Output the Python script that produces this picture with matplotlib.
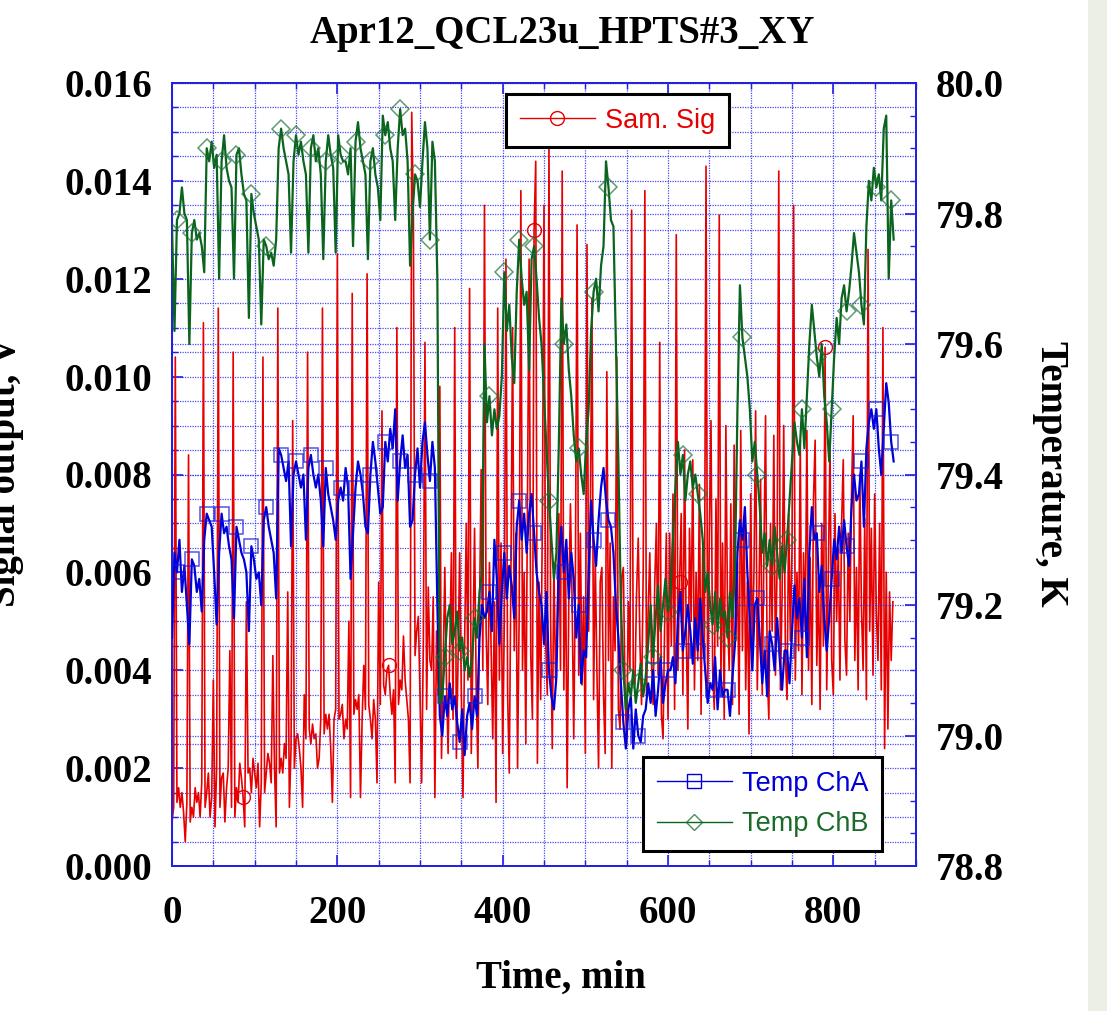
import numpy as np
import matplotlib
matplotlib.use("Agg")
import matplotlib.pyplot as plt
from matplotlib.ticker import MultipleLocator, FormatStrFormatter
from matplotlib.lines import Line2D
from matplotlib.patches import Rectangle

# ---------------- data ----------------
# Sam. Sig (left axis), sampled every 2 min, values in mV
sam_sig_mV = [
    0.9, 1.2, 10.4, 1.3, 1.6, 1.2, 1.5, 1.1, 0.5, 1.3, 8.4, 0.9, 1.2, 1.0, 1.6,
    1.3, 1.5, 1.0, 1.7, 11.1, 1.2, 1.5, 1.9, 1.0, 1.4, 3.8, 0.8, 2.0, 11.4, 1.2,
    1.8, 1.9, 0.9, 1.6, 2.0, 4.4, 1.2, 10.5, 1.0, 1.6, 1.3, 2.1, 1.8, 1.4, 0.8,
    5.4, 1.9, 2.0, 1.5, 2.2, 1.9, 1.6, 2.1, 0.8, 1.7, 10.4, 1.5, 1.9, 2.3, 2.1,
    1.7, 4.3, 2.0, 0.8, 11.4, 1.9, 2.2, 1.9, 2.5, 2.2, 5.6, 1.2, 2.4, 9.1, 2.0,
    2.6, 2.7, 2.4, 2.0, 1.2, 3.5, 2.6, 10.5, 2.8, 2.5, 2.9, 2.6, 2.7, 2.0, 2.2,
    3.0, 11.4, 2.7, 3.1, 2.8, 3.1, 2.4, 1.3, 3.0, 3.2, 12.5, 3.0, 3.1, 3.3, 2.6,
    3.0, 2.8, 5.0, 1.4, 11.7, 3.1, 3.4, 3.2, 3.5, 1.4, 3.0, 4.1, 3.2, 12.1, 3.3,
    3.0, 2.6, 3.4, 3.0, 1.7, 5.8, 3.3, 9.3, 3.7, 3.5, 4.0, 4.1, 3.5, 3.1, 3.6,
    1.7, 11.0, 3.3, 3.8, 3.6, 4.7, 3.8, 3.4, 3.0, 1.7, 15.4, 13.3, 4.3, 4.8, 5.1,
    3.5, 1.7, 4.5, 10.7, 3.2, 5.7, 4.2, 4.0, 5.5, 1.4, 4.8, 3.5, 9.8, 2.2, 4.0,
    6.1, 3.8, 2.3, 4.5, 6.4, 3.0, 11.0, 2.2, 4.2, 6.4, 3.5, 1.4, 4.6, 7.0, 3.8,
    11.8, 2.3, 4.4, 6.9, 3.6, 2.0, 5.2, 8.1, 4.0, 13.5, 4.8, 3.3, 6.2, 4.5, 2.6,
    5.4, 1.3, 11.4, 3.8, 6.6, 2.3, 5.0, 12.4, 3.5, 1.9, 6.0, 11.0, 4.4, 6.8, 2.0,
    5.2, 13.8, 4.0, 6.0, 2.5, 7.5, 12.4, 4.3, 3.0, 13.0, 14.4, 2.1, 5.8, 3.4, 7.0,
    13.5, 4.6, 3.5, 14.7, 5.0, 2.4, 6.2, 3.8, 5.0, 7.2, 4.0, 14.2, 3.6, 6.5, 1.6,
    5.4, 7.4, 5.4, 2.6, 6.0, 13.1, 3.9, 6.8, 3.7, 5.5, 2.3, 12.7, 4.8, 7.0, 11.6,
    3.4, 6.3, 4.0, 2.0, 5.8, 6.1, 3.5, 2.3, 10.1, 4.2, 6.6, 2.0, 5.5, 4.4, 10.4,
    3.2, 2.8, 5.9, 6.1, 3.6, 2.5, 5.4, 4.0, 13.4, 3.8, 3.7, 5.6, 6.7, 4.6, 3.3,
    6.0, 13.8, 3.5, 5.2, 6.4, 4.2, 3.3, 5.8, 7.0, 3.9, 10.7, 3.1, 2.6, 5.0, 6.8,
    3.0, 6.8, 4.5, 7.6, 3.2, 12.9, 4.0, 5.8, 7.2, 3.5, 8.5, 4.8, 2.8, 6.9, 5.0,
    8.3, 3.6, 6.0, 4.2, 7.8, 3.1, 6.5, 4.4, 14.3, 3.4, 6.8, 9.1, 4.0, 3.2, 7.5,
    4.5, 13.3, 3.8, 6.6, 3.0, 9.0, 5.2, 4.0, 7.4, 3.3, 8.6, 4.6, 6.2, 3.1, 8.9,
    4.4, 7.1, 3.6, 5.8, 2.7, 7.6, 4.4, 6.0, 9.3, 3.6, 5.5, 7.9, 3.5, 6.4, 9.2,
    4.0, 3.0, 7.0, 4.8, 8.8, 3.9, 6.2, 14.2, 3.6, 5.5, 9.0, 4.3, 3.4, 7.2, 4.6,
    6.5, 13.5, 3.8, 6.0, 4.4, 8.7, 3.5, 6.4, 4.8, 8.9, 4.0, 6.3, 3.3, 7.5, 8.7,
    4.1, 5.9, 3.2, 7.0, 4.5, 10.6, 3.6, 6.0, 8.6, 4.2, 3.5, 7.2, 5.0, 6.5, 3.8,
    7.0, 8.3, 4.6, 3.9, 6.8, 5.0, 7.6, 9.2, 4.2, 6.1, 3.6, 8.0, 5.3, 4.0, 7.1,
    3.4, 12.6, 4.8, 6.9, 3.9, 7.6, 5.2, 4.2, 7.0, 3.6, 11.0, 2.4, 6.0, 2.8, 5.6,
    4.2, 5.4,
]
sam_step_min = 2

# Temp ChA (right axis), sampled every 3 min, K
temp_cha = [
    79.15, 79.28, 79.25, 79.30, 79.22, 79.26, 79.20, 79.14, 79.27, 79.26,
    79.22, 79.24, 79.19, 79.30, 79.34, 79.33, 79.32, 79.25, 79.17, 79.28,
    79.34, 79.31, 79.32, 79.29, 79.27, 79.18, 79.32, 79.30, 79.28, 79.27,
    79.25, 79.16, 79.29, 79.27, 79.24, 79.25, 79.20, 79.33, 79.35, 79.32,
    79.30, 79.28, 79.21, 79.44, 79.43, 79.41, 79.39, 79.42, 79.29, 79.40,
    79.42, 79.40, 79.38, 79.40, 79.30, 79.41, 79.43, 79.40, 79.38, 79.40,
    79.36, 79.29, 79.41, 79.37, 79.35, 79.33, 79.30, 79.36, 79.38, 79.36,
    79.41, 79.38, 79.24, 79.31, 79.38, 79.42, 79.40, 79.37, 79.32, 79.31,
    79.40, 79.45, 79.42, 79.38, 79.34, 79.35, 79.45, 79.42, 79.47, 79.44,
    79.50, 79.36, 79.42, 79.46, 79.41, 79.43, 79.32, 79.33, 79.40, 79.44,
    79.38, 79.45, 79.48, 79.43, 79.39, 79.45, 79.41, 79.20, 79.03, 79.00,
    79.06, 79.03, 79.08, 79.04, 79.06, 79.02, 78.99, 79.04, 78.97, 79.03,
    79.05, 79.01, 79.06, 79.03, 79.15, 79.20, 79.18, 79.19, 79.22, 79.16,
    79.30, 79.24, 79.14, 79.22, 79.28, 79.21, 79.26, 79.23, 79.18, 79.32,
    79.36, 79.30, 79.34, 79.28, 79.34, 79.37, 79.31, 79.25, 79.22, 79.20,
    79.14, 79.22, 79.10, 79.06, 79.04, 79.09, 79.27, 79.32, 79.25, 79.30,
    79.21, 79.28, 79.24, 79.15, 79.20, 79.08, 79.13, 79.12, 79.25, 79.36,
    79.30, 79.26, 79.33, 79.38, 79.41, 79.36, 79.33, 79.32, 79.28, 79.20,
    79.15, 79.08, 79.02, 78.98, 79.04, 79.06, 78.98, 79.04, 79.00, 78.99,
    79.03, 79.04, 79.08, 79.05, 79.10, 79.03, 79.07, 79.12, 79.05, 79.08,
    79.10, 79.10, 79.12, 79.08, 79.18, 79.22, 79.13, 79.16, 79.20, 79.16,
    79.11, 79.18, 79.13, 79.21, 79.15, 79.10, 79.05, 79.08, 79.07, 79.12,
    79.04, 79.10, 79.06, 79.07, 79.07, 79.03, 79.09, 79.14, 79.28, 79.33,
    79.30, 79.35, 79.25, 79.18, 79.10, 79.20, 79.21, 79.15, 79.08, 79.13,
    79.06, 79.16, 79.14, 79.10, 79.18, 79.12, 79.07, 79.13, 79.13, 79.08,
    79.16, 79.23, 79.18, 79.21, 79.15, 79.24, 79.12, 79.28, 79.35, 79.30,
    79.31, 79.22, 79.26, 79.18, 79.13, 79.18, 79.24, 79.30, 79.27, 79.32,
    79.28, 79.33, 79.29, 79.26, 79.35, 79.40, 79.36, 79.37, 79.42, 79.32,
    79.44, 79.48, 79.50, 79.47, 79.50, 79.44, 79.40, 79.47, 79.54, 79.51,
    79.45, 79.42,
]

# Temp ChB (right axis), sampled every 3 min, K
temp_chb = [
    79.78, 79.62, 79.79, 79.80, 79.84, 79.80, 79.79, 79.60, 79.77, 79.79,
    79.76, 79.77, 79.75, 79.71, 79.90, 79.88, 79.91, 79.87, 79.89, 79.70,
    79.88, 79.92, 79.87, 79.85, 79.84, 79.70, 79.89, 79.90, 79.86, 79.83,
    79.82, 79.64, 79.83, 79.80, 79.78, 79.76, 79.63, 79.76, 79.75, 79.73,
    79.74, 79.72, 79.76, 79.90, 79.93, 79.90, 79.88, 79.86, 79.74, 79.88,
    79.92, 79.89, 79.91, 79.88, 79.86, 79.74, 79.90, 79.92, 79.88, 79.90,
    79.86, 79.73, 79.88, 79.92, 79.89, 79.87, 79.74, 79.92, 79.89, 79.88,
    79.88, 79.86, 79.90, 79.75, 79.91, 79.94, 79.90, 79.88, 79.86, 79.73,
    79.88, 79.90, 79.86, 79.84, 79.79, 79.95, 79.92, 79.94, 79.90, 79.88,
    79.79, 79.90, 79.96, 79.92, 79.93, 79.88, 79.72, 79.80, 79.86, 79.85,
    79.81, 79.88, 79.94, 79.90, 79.76, 79.91, 79.88, 79.70, 79.05, 79.06,
    79.12, 79.18, 79.20, 79.14, 79.16, 79.19, 79.13, 79.15, 79.10, 79.12,
    79.09, 79.12, 79.18, 79.15, 79.22, 79.25, 79.60, 79.48, 79.52, 79.46,
    79.50, 79.47, 79.49, 79.55, 79.71, 79.62, 79.66, 79.58, 79.54, 79.68,
    79.76, 79.70, 79.66, 79.68, 79.56, 79.73, 79.75, 79.70, 79.64, 79.60,
    79.52, 79.44, 79.36, 79.30, 79.24, 79.28, 79.45, 79.67, 79.60, 79.63,
    79.56, 79.52, 79.46, 79.42, 79.44, 79.40, 79.37, 79.45, 79.50, 79.62,
    79.68, 79.70, 79.65, 79.72, 79.75, 79.88, 79.84, 79.79, 79.78, 79.60,
    79.42, 79.20, 79.10, 79.04, 79.08, 79.06, 79.10, 79.05, 79.08, 79.11,
    79.06, 79.09, 79.14, 79.20, 79.12, 79.18, 79.23, 79.16, 79.20, 79.24,
    79.19, 79.22, 79.30, 79.38, 79.45, 79.40, 79.43, 79.36, 79.40, 79.42,
    79.38, 79.40, 79.37, 79.34, 79.30, 79.22, 79.25, 79.20, 79.17, 79.22,
    79.16, 79.21, 79.18, 79.19, 79.15, 79.22, 79.18, 79.25, 79.50, 79.69,
    79.61, 79.58, 79.55, 79.50, 79.42, 79.45, 79.40, 79.35, 79.28, 79.31,
    79.26, 79.30, 79.26, 79.32, 79.28, 79.24, 79.29, 79.25, 79.30, 79.36,
    79.42, 79.48, 79.45, 79.43, 79.50, 79.44, 79.52, 79.60, 79.66, 79.62,
    79.58, 79.55, 79.60, 79.52, 79.48, 79.42, 79.50, 79.58, 79.64, 79.60,
    79.67, 79.69, 79.65, 79.68, 79.72, 79.77, 79.74, 79.71, 79.66, 79.63,
    79.78, 79.85, 79.82, 79.87, 79.84, 79.86, 79.82, 79.93, 79.95, 79.70,
    79.82, 79.76,
]
temp_step_min = 3

series_labels = ["Sam. Sig", "Temp ChA", "Temp ChB"]
title_text = "Apr12_QCL23u_HPTS#3_XY"

# ---------------- derived ----------------
sam_sig = np.array(sam_sig_mV) / 1000.0
sam_t = np.arange(len(sam_sig)) * sam_step_min
temp_t = np.arange(len(temp_cha)) * temp_step_min

RED = "#E60000"
BLUE = "#0000D8"
GREEN = "#0A641E"
GRID = "#2B2BF0"
SERIF = "Liberation Serif"
SANS = "Liberation Sans"

W, H = 1107, 1011
fig = plt.figure(figsize=(W / 100, H / 100), dpi=100)
fig.patch.set_facecolor("white")
fig.patches.append(Rectangle((1088 / W, 0), 1 - 1088 / W, 1, transform=fig.transFigure,
                             facecolor="#ECEFE3", edgecolor="none", zorder=-10))

L, R, T, B = 172, 916, 83, 866
ax = fig.add_axes([L / W, 1 - B / H, (R - L) / W, (B - T) / H])
ax2 = ax.twinx()

# Sam. Sig
ax.plot(sam_t, sam_sig, color=RED, lw=1.2, marker="o", markevery=(43, 88), ms=10,
        mfc="none", mec=RED, mew=1.0, zorder=3)
# temps
ax2.plot(temp_t, temp_cha, color=BLUE, lw=1.6, marker="s", markevery=(2, 6), ms=9.5,
         mfc="none", mec=(0.1, 0.1, 0.85, 0.75), mew=1.1, zorder=3)
ax2.plot(temp_t, temp_chb, color=GREEN, lw=1.6, marker="D", markevery=(2, 6), ms=9,
         mfc="none", mec=(0.1, 0.45, 0.2, 0.7), mew=1.1, zorder=4)

ax.set_xlim(0, 900)
ax.set_ylim(0, 0.016)
ax2.set_ylim(78.8, 80.0)

ax.xaxis.set_major_locator(MultipleLocator(200))
ax.xaxis.set_minor_locator(MultipleLocator(50))
ax.yaxis.set_major_locator(MultipleLocator(0.002))
ax.yaxis.set_minor_locator(MultipleLocator(0.0005))
ax.yaxis.set_major_formatter(FormatStrFormatter("%.3f"))
ax2.yaxis.set_major_locator(MultipleLocator(0.2))
ax2.yaxis.set_minor_locator(MultipleLocator(0.05))
ax2.yaxis.set_major_formatter(FormatStrFormatter("%.1f"))

ax.grid(which="both", axis="both", color=GRID, lw=0.9, ls=(0, (1, 1)), alpha=0.85)
ax2.grid(which="major", axis="y", color=GRID, lw=0.9, ls=(0, (1, 1)), alpha=0.85)
ax.set_axisbelow(True)

for a in (ax, ax2):
    for s in a.spines.values():
        s.set_color("#2020E0")
        s.set_linewidth(1.3)

ax.tick_params(axis="both", which="major", direction="in", length=8, width=1.2,
               color="#2020E0", top=True, right=False)
ax.tick_params(axis="both", which="minor", direction="in", length=4, width=1.0,
               color="#2020E0", top=True, right=False)
ax.tick_params(axis="y", which="major", pad=14)
ax.tick_params(axis="x", which="major", pad=21)
ax2.tick_params(axis="y", which="major", direction="in", length=8, width=1.2,
                color="#2020E0", pad=14)
ax2.tick_params(axis="y", which="minor", direction="in", length=4, width=1.0,
                color="#2020E0")

for lab in ax.get_xticklabels() + ax.get_yticklabels() + ax2.get_yticklabels():
    lab.set_fontfamily(SERIF)
    lab.set_fontweight("bold")
    lab.set_fontsize(28)

fig.text(562 / W, 1 - 33 / H, title_text, ha="center", va="center",
         fontfamily=SERIF, fontweight="bold", fontsize=28)
fig.text(561 / W, 1 - 978 / H, "Time, min", ha="center", va="center",
         fontfamily=SERIF, fontweight="bold", fontsize=28)
fig.text(1051 / W, 1 - 474 / H, "Temperature, K", ha="center", va="center",
         rotation=-90, fontfamily=SERIF, fontweight="bold", fontsize=28)
fig.text(6 / W, 1 - 472 / H, "Signal output, V", ha="center", va="center",
         rotation=90, fontfamily=SERIF, fontweight="bold", fontsize=28)

# legends
h_sig = Line2D([], [], color=RED, lw=1.0, marker="o", ms=10, mfc="none", mec=RED, mew=1.0)
h_a = Line2D([], [], color=BLUE, lw=1.0, marker="s", ms=10, mfc="none", mec=BLUE, mew=1.0)
h_b = Line2D([], [], color=GREEN, lw=1.0, marker="D", ms=8.5, mfc="none",
             mec=(0.1, 0.45, 0.2, 0.8), mew=1.0)

leg_kw = dict(frameon=True, fancybox=False, framealpha=1, edgecolor="black",
              prop={"family": SANS, "size": 19.5}, handlelength=2.8, handletextpad=0.35,
              borderpad=0.5, borderaxespad=0, bbox_transform=fig.transFigure)
leg1 = ax2.legend([h_sig], [series_labels[0]], loc="upper left",
                  bbox_to_anchor=(506 / W, 1 - 94 / H), **leg_kw)
leg1.get_frame().set_linewidth(2.2)
leg1.get_texts()[0].set_color(RED)
ax2.add_artist(leg1)
leg2 = ax2.legend([h_a, h_b], series_labels[1:], loc="upper left", labelspacing=0.55,
                  bbox_to_anchor=(643 / W, 1 - 757 / H), **leg_kw)
leg2.get_frame().set_linewidth(2.2)
leg2.get_texts()[0].set_color(BLUE)
leg2.get_texts()[1].set_color("#1A6B2A")

fig.savefig("out.png", dpi=100)
